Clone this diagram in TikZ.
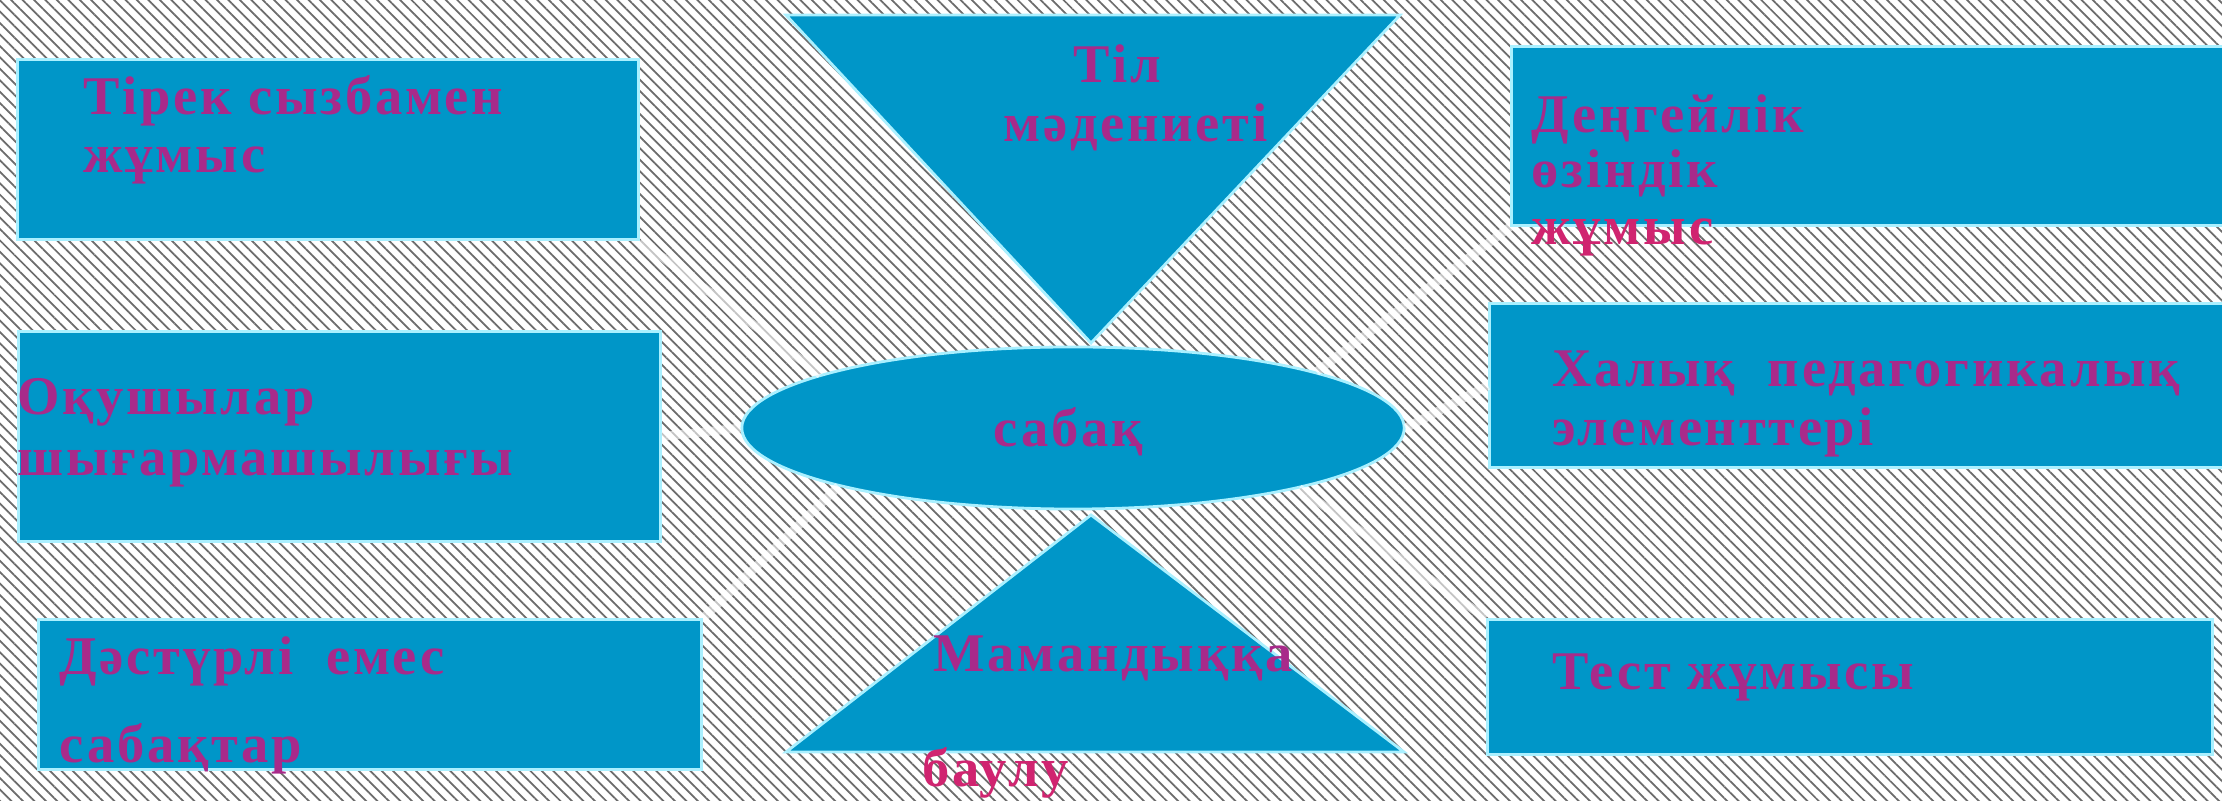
\documentclass[tikz,border=0pt]{standalone}
\usepackage{fontspec}
\setmainfont{Liberation Serif}[LetterSpace=5]
\usepackage{tikz}
\usetikzlibrary{shapes.geometric, patterns.meta}
\definecolor{boxblue}{RGB}{0,150,200}
\definecolor{edgecyan}{RGB}{170,240,255}
\definecolor{inkviolet}{RGB}{168,42,138}
\definecolor{inkpink}{RGB}{208,36,112}

\begin{document}
\begin{tikzpicture}[x=0.01cm, y=-0.01cm,
    box/.style={draw=edgecyan, line width=0.8pt, fill=boxblue, anchor=north west, inner sep=0},
    tri/.style={draw=edgecyan, line width=0.8pt, fill=boxblue},
    lbl/.style={anchor=base west, inner sep=0, text=inkviolet, font=\fontsize{15.5}{18}\selectfont\bfseries},
    link/.style={white, line width=2.5pt, opacity=0.6}]
    \useasboundingbox (0,0) rectangle (2222,801);
    % Hatched background
    \fill[white] (0,0) rectangle (2222,801);
    \fill[pattern={Lines[angle=-45,distance=2.3pt,line width=0.5pt]}, pattern color=gray!85!black] (0,0) rectangle (2222,801);

    % Boxes
    \node[box, minimum width=6.21cm, minimum height=1.80cm] (tirek) at (16,58) {};
    \node[box, minimum width=6.42cm, minimum height=2.10cm] (oqush) at (17,330) {};
    \node[box, minimum width=6.63cm, minimum height=1.50cm] (dastur) at (37,618) {};
    \node[box, minimum width=7.30cm, minimum height=1.79cm] (dengei) at (1510,45) {};
    \node[box, minimum width=7.52cm, minimum height=1.64cm] (halyk) at (1488,302) {};
    \node[box, minimum width=7.25cm, minimum height=1.35cm] (test) at (1486,618) {};

    % Triangles and centre
    \draw[tri] (786,15) -- (1400,15) -- (1091,343) -- cycle;
    \draw[tri] (1091,515) -- (1404,752) -- (786,752) -- cycle;
    \node[ellipse, draw=edgecyan, line width=0.8pt, fill=boxblue, minimum width=6.62cm, minimum height=1.62cm, inner sep=0] (sabak) at (1073,428) {};

    % Links to the centre
    \draw[link] (tirek.south east) -- (sabak.168);
    \draw[link] (oqush.east) -- (sabak.west);
    \draw[link] (dastur.north east) -- (sabak.194);
    \draw[link] (dengei.south west) -- (sabak.13);
    \draw[link] (halyk.west) -- (sabak.east);
    \draw[link] (test.north west) -- (sabak.-15);

    % Texts
    \node[lbl] (tirek1) at (83,115) {Тірек сызбамен};
    \node[lbl] (tirek2) at (83,173) {жұмыс};
    \node[lbl] (til1) at (1073,83) {Тіл};
    \node[lbl, anchor=base east] (til2) at (1268,142) {мәдениеті};
    \node[lbl] (dengei1) at (1531,133) {Деңгейлік};
    \node[lbl] (dengei2) at (1531,188) {өзіндік};
    \node[lbl, text=inkpink] (dengei3) at (1531,245) {жұмыс};
    \node[lbl] (oqush1) at (17,415) {Оқушылар};
    \node[lbl] (oqush2) at (17,476) {шығармашылығы};
    \node[lbl, anchor=base] (sabak1) at (1068,447) {сабақ};
    \node[lbl] (halyk1) at (1552,387) {Халық\ \ педагогикалық};
    \node[lbl] (halyk2) at (1552,446) {элементтері};
    \node[lbl] (dastur1) at (59,675) {Дәстүрлі\ \ емес};
    \node[lbl] (dastur2) at (59,763) {сабақтар};
    \node[lbl] (maman1) at (933,672) {Мамандыққа};
    \node[lbl, text=inkpink] (maman2) at (922,787) {баулу};
    \node[lbl] (test1) at (1552,690) {Тест жұмысы};
\end{tikzpicture}
\end{document}
